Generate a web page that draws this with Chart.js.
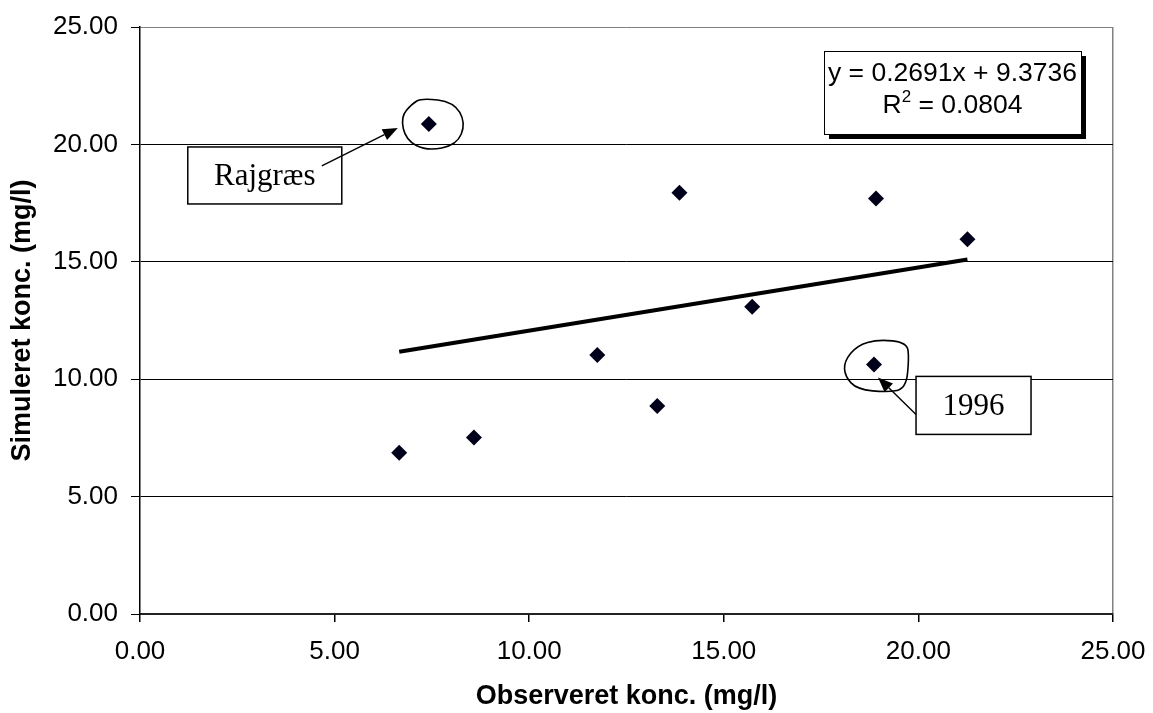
<!DOCTYPE html>
<html>
<head>
  <meta charset="utf-8">
  <title>Observeret vs. simuleret koncentration</title>
  <script src="https://cdn.jsdelivr.net/npm/chart.js"></script>
  <style>
    html, body { margin: 0; padding: 0; background: #fff; }
  </style>
</head>
<body>
  <canvas id="scatterChart" width="1153" height="713"></canvas>

  <script>
    // observed vs. simulated concentrations (mg/l)
    const observed  = [6.66, 7.42, 8.58, 11.75, 13.29, 13.86, 15.73, 18.86, 18.91, 21.26];
    const simulated = [6.87, 20.87, 7.52, 11.03, 8.86, 17.94, 13.09, 10.63, 17.70, 15.96];
    const axisTicks = [0, 5, 10, 15, 20, 25];

    // linear trend line y = slope * x + intercept
    const slope = 0.2691;
    const intercept = 9.3736;
    const rSquared = 0.0804;

    // points with a text callout
    const calloutIndex = [1, 7];
    const calloutText = ['Rajgræs', '1996'];

    const sansFont = "'Liberation Sans', Arial, sans-serif";
    const serifFont = "'Liberation Serif', 'Times New Roman', serif";

    // callout geometry, relative to the marked point
    const calloutLayout = [
      { box: [-241, 23, 154, 57], from: [-107, 42], tip: [-31, 4],
        ring: [[-7, -26], [25, -22], [37, -1], [28, 21], [-2, 27], [-23, 16], [-28, -7], [-17, -20]] },
      { box: [42, 12, 115, 58], from: [42, 50], tip: [4, 13],
        ring: [[4, -25], [33, -22], [35, -6], [32, 24], [14, 28], [-17, 25], [-29, 12], [-30, -3], [-17, -19]] }
    ];

    function drawRing(ctx, cx, cy, pts) {
      const n = pts.length;
      const mid = (a, b) => [(a[0] + b[0]) / 2, (a[1] + b[1]) / 2];
      let m = mid(pts[n - 1], pts[0]);
      ctx.beginPath();
      ctx.moveTo(cx + m[0], cy + m[1]);
      for (let i = 0; i < n; i++) {
        const p = pts[i];
        const m2 = mid(p, pts[(i + 1) % n]);
        ctx.quadraticCurveTo(cx + p[0], cy + p[1], cx + m2[0], cy + m2[1]);
      }
      ctx.stroke();
    }

    function drawArrow(ctx, x1, y1, x2, y2) {
      const ang = Math.atan2(y2 - y1, x2 - x1);
      const len = 15, half = 6;
      const bx = x2 - len * Math.cos(ang);
      const by = y2 - len * Math.sin(ang);
      ctx.beginPath();
      ctx.moveTo(x1, y1);
      ctx.lineTo(bx, by);
      ctx.stroke();
      ctx.beginPath();
      ctx.moveTo(x2, y2);
      ctx.lineTo(bx + half * Math.sin(ang), by - half * Math.cos(ang));
      ctx.lineTo(bx - half * Math.sin(ang), by + half * Math.cos(ang));
      ctx.closePath();
      ctx.fill();
    }

    // callouts, rings and the regression box
    const notesPlugin = {
      id: 'notes',
      afterDraw(chart) {
        const ctx = chart.ctx;
        const xs = chart.scales.x;
        const ys = chart.scales.y;
        const area = chart.chartArea;
        ctx.save();
        ctx.strokeStyle = '#000';
        ctx.fillStyle = '#000';

        calloutIndex.forEach((idx, k) => {
          const px = xs.getPixelForValue(observed[idx]);
          const py = ys.getPixelForValue(simulated[idx]);
          const lay = calloutLayout[k];

          ctx.lineWidth = 1.6;
          drawRing(ctx, px, py, lay.ring);

          const [bx, by, bw, bh] = lay.box;
          ctx.fillStyle = '#fff';
          ctx.fillRect(px + bx, py + by, bw, bh);
          ctx.lineWidth = 1.5;
          ctx.strokeRect(px + bx, py + by, bw, bh);
          ctx.fillStyle = '#000';
          ctx.font = '31px ' + serifFont;
          ctx.textAlign = 'center';
          ctx.textBaseline = 'alphabetic';
          ctx.fillText(calloutText[k], px + bx + bw / 2, py + by + bh / 2 + 10);

          ctx.lineWidth = 1.4;
          drawArrow(ctx, px + lay.from[0], py + lay.from[1], px + lay.tip[0], py + lay.tip[1]);
        });

        // regression equation box with drop shadow
        const w = 257, h = 83;
        const left = area.right - 32 - w;
        const top = area.top + 24;
        ctx.fillStyle = '#000';
        ctx.fillRect(left + 5, top + 5, w, h);
        ctx.fillStyle = '#fff';
        ctx.fillRect(left, top, w, h);
        ctx.lineWidth = 1;
        ctx.strokeStyle = '#000';
        ctx.strokeRect(left + 0.5, top + 0.5, w, h);

        const cx = left + w / 2;
        ctx.fillStyle = '#000';
        ctx.textBaseline = 'alphabetic';
        ctx.textAlign = 'center';
        ctx.font = '26.5px ' + sansFont;
        ctx.fillText('y = ' + slope.toFixed(4) + 'x + ' + intercept.toFixed(4), cx, top + 30);

        const base2 = top + 62;
        const partR = 'R';
        const partRest = ' = ' + rSquared.toFixed(4);
        ctx.font = '26.5px ' + sansFont;
        const wR = ctx.measureText(partR).width;
        const wRest = ctx.measureText(partRest).width;
        ctx.font = '17px ' + sansFont;
        const wSup = ctx.measureText('2').width;
        let x0 = cx - (wR + wSup + wRest) / 2;
        ctx.textAlign = 'left';
        ctx.font = '26.5px ' + sansFont;
        ctx.fillText(partR, x0, base2);
        ctx.font = '17px ' + sansFont;
        ctx.fillText('2', x0 + wR, base2 - 11);
        ctx.font = '26.5px ' + sansFont;
        ctx.fillText(partRest, x0 + wR + wSup, base2);

        ctx.restore();
      }
    };

    const xMin = Math.min(...observed);
    const xMax = Math.max(...observed);

    new Chart(document.getElementById('scatterChart'), {
      data: {
        datasets: [
          {
            type: 'scatter',
            data: observed.map((x, i) => ({ x: x, y: simulated[i] })),
            pointStyle: 'rectRot',
            pointRadius: 8,
            pointHoverRadius: 8,
            backgroundColor: '#00001a',
            borderColor: '#00001a',
            borderWidth: 0,
            order: 1
          },
          {
            type: 'line',
            data: [
              { x: xMin, y: slope * xMin + intercept },
              { x: xMax, y: slope * xMax + intercept }
            ],
            borderColor: '#000',
            borderWidth: 4,
            pointRadius: 0,
            fill: false,
            order: 2
          }
        ]
      },
      options: {
        responsive: false,
        animation: false,
        layout: { padding: { top: 27, right: 40, bottom: 0, left: 0 } },
        plugins: {
          legend: { display: false },
          tooltip: { enabled: false }
        },
        scales: {
          x: {
            type: 'linear',
            min: 0,
            max: 25,
            afterBuildTicks: s => { s.ticks = axisTicks.map(v => ({ value: v })); },
            afterFit: s => { s.height = 99; s.paddingLeft = 0; s.paddingRight = 0; },
            ticks: {
              callback: v => Number(v).toFixed(2),
              color: '#000',
              font: { family: sansFont, size: 26 },
              padding: 14,
              maxRotation: 0,
              autoSkip: false
            },
            grid: {
              color: c => (c.tick && c.tick.value === 25) ? '#808080' : 'rgba(0,0,0,0)',
              tickColor: '#000',
              tickLength: 8,
              lineWidth: 1.5
            },
            border: { color: '#222', width: 2 },
            title: {
              display: true,
              text: 'Observeret konc. (mg/l)',
              color: '#000',
              font: { family: sansFont, size: 27, weight: 'bold' },
              padding: { top: 0, bottom: 0 }
            }
          },
          y: {
            type: 'linear',
            min: 0,
            max: 25,
            afterBuildTicks: s => { s.ticks = axisTicks.map(v => ({ value: v })); },
            afterFit: s => { s.width = 140; s.paddingTop = 0; s.paddingBottom = 0; },
            ticks: {
              callback: v => Number(v).toFixed(2),
              color: '#000',
              font: { family: sansFont, size: 26 },
              padding: 13,
              autoSkip: false
            },
            grid: {
              color: c => (c.tick && c.tick.value === 25) ? '#808080' : '#000',
              tickColor: '#000',
              tickLength: 9,
              lineWidth: 1
            },
            border: { color: '#000', width: 1.5 },
            title: {
              display: true,
              text: 'Simuleret konc. (mg/l)',
              color: '#000',
              font: { family: sansFont, size: 27, weight: 'bold' },
              padding: { top: 6, bottom: 0 }
            }
          }
        }
      },
      plugins: [notesPlugin]
    });
  </script>
</body>
</html>
